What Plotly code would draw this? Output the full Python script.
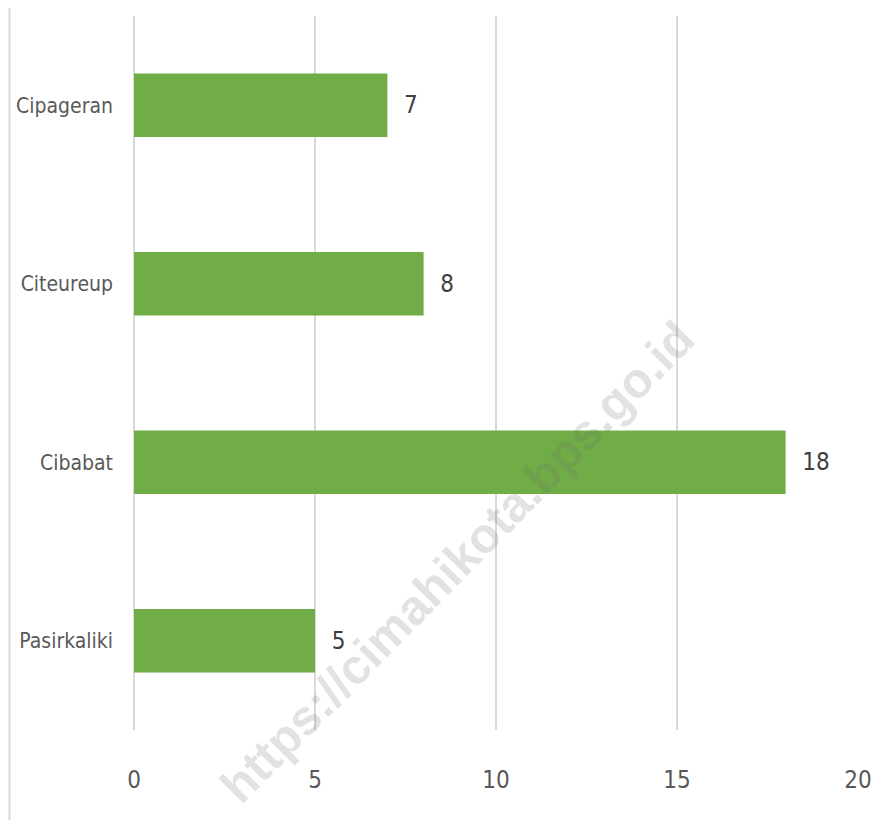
import plotly.graph_objects as go

categories = ["Cipageran", "Citeureup", "Cibabat", "Pasirkaliki"]
values = [7, 8, 18, 5]
x_ticks = [0, 5, 10, 15, 20]
watermark = "https://cimahikota.bps.go.id"

FONT = "DejaVu Sans Condensed, Liberation Sans Narrow, Roboto, sans-serif"

fig = go.Figure(go.Bar(
    y=categories,
    x=values,
    orientation="h",
    marker=dict(color="#70AD47", line=dict(width=0)),
    width=0.355,
    text=[str(v) for v in values],
    texttemplate="  %{text}",
    textposition="outside",
    textfont=dict(family=FONT, size=24, color="#404040"),
    cliponaxis=False,
))

fig.update_layout(
    width=895, height=820,
    margin=dict(l=126, r=45, t=8, b=98, autoexpand=False),
    paper_bgcolor="white", plot_bgcolor="white",
    showlegend=False,
    bargap=0.645,
    xaxis=dict(
        range=[0, 20], tickvals=x_ticks, showgrid=True,
        gridcolor="#d9d9d9", gridwidth=1.5,
        zeroline=True, zerolinecolor="#d9d9d9", zerolinewidth=1.5,
        showline=False, ticks="", ticklabelstandoff=33, automargin=False,
        tickfont=dict(family=FONT, size=24, color="#595959"),
    ),
    yaxis=dict(
        categoryorder="array", categoryarray=categories[::-1],
        showgrid=False, zeroline=False, showline=False, ticks="",
        ticklabelstandoff=20, automargin=False,
        tickfont=dict(family=FONT, size=21, color="#595959"),
    ),
    shapes=[dict(type="line", xref="paper", yref="paper",
                 x0=-124.5 / 724, x1=-124.5 / 724, y0=-98 / 714, y1=(714 + 8) / 714,
                 line=dict(color="#d9d9d9", width=2))],
    annotations=[dict(
        text="<b>" + watermark + "</b>", xref="paper", yref="paper",
        x=(457 - 134) / 724, y=(730 - 562) / 714, xanchor="center", yanchor="middle",
        showarrow=False,
        textangle=-45.5, font=dict(family="Liberation Sans, Arial, sans-serif", size=49,
                                  color="rgba(110,110,110,0.2)"),
    )],
)

fig.write_html("out.html")
